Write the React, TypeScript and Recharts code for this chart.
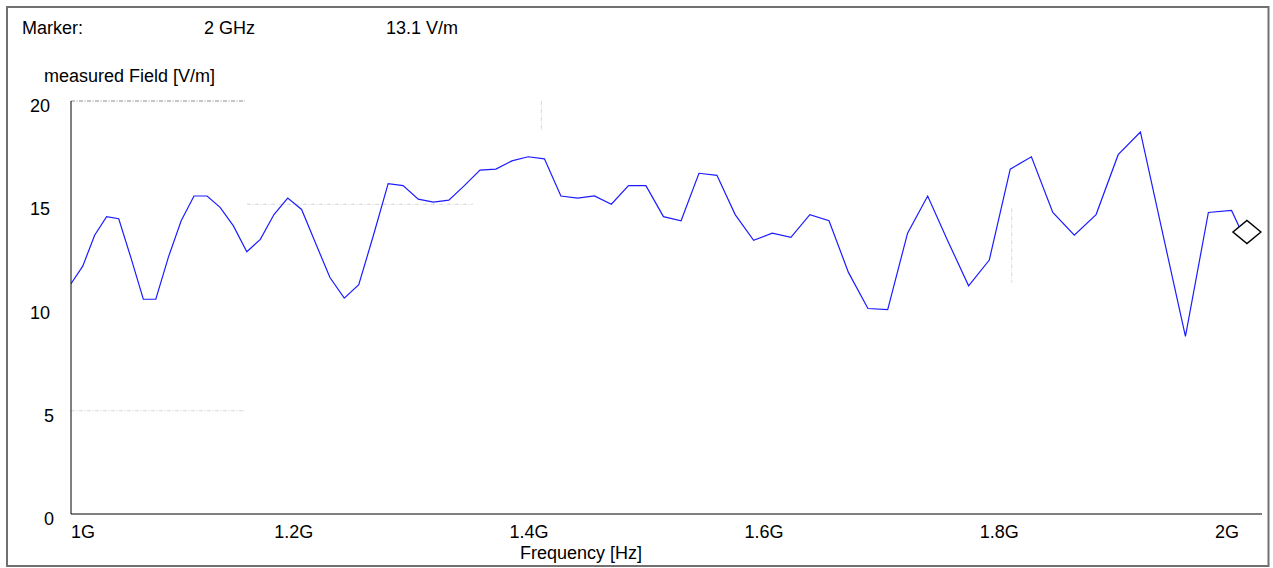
import { Line, LineChart, ReferenceLine, XAxis, YAxis } from "recharts";

// sweep points, 1 % log steps from 1 GHz, last point is the marker at 2 GHz
const freqGHz = [
  1.0, 1.01, 1.0201, 1.0303, 1.0406, 1.051, 1.0615, 1.0721, 1.0829, 1.0937,
  1.1046, 1.1157, 1.1268, 1.1381, 1.1495, 1.161, 1.1726, 1.1843, 1.1961, 1.2081,
  1.2202, 1.2324, 1.2447, 1.2572, 1.2697, 1.2824, 1.2953, 1.3082, 1.3213, 1.3345,
  1.3478, 1.3613, 1.3749, 1.3887, 1.4026, 1.4166, 1.4308, 1.4451, 1.4595, 1.4741,
  1.4889, 1.5038, 1.5188, 1.534, 1.5493, 1.5648, 1.5805, 1.5963, 1.6122, 1.6283,
  1.6446, 1.6611, 1.6777, 1.6945, 1.7114, 1.7285, 1.7458, 1.7633, 1.7809, 1.7987,
  1.8167, 1.8349, 1.8532, 1.8717, 1.8905, 1.9094, 1.9285, 1.9477, 1.9672, 1.9869,
  2.0,
];

const fieldVm = [
  11.15, 12.0, 13.5, 14.4, 14.3, 12.4, 10.4, 10.4, 12.45, 14.2,
  15.4, 15.4, 14.85, 13.95, 12.7, 13.3, 14.5, 15.3, 14.75, 13.1,
  11.45, 10.45, 11.1, 13.5, 16.0, 15.9, 15.25, 15.1, 15.2, 15.9,
  16.65, 16.7, 17.1, 17.3, 17.2, 15.4, 15.3, 15.4, 15.0, 15.9,
  15.9, 14.4, 14.2, 16.5, 16.4, 14.5, 13.25, 13.6, 13.4, 14.5,
  14.2, 11.7, 9.95, 9.9, 13.6, 15.4, 13.2, 11.05, 12.3, 16.7,
  17.3, 14.6, 13.5, 14.5, 17.4, 18.5, 13.55, 8.6, 14.6, 14.7,
  13.1,
];

const xTicks = [1, 1.2, 1.4, 1.6, 1.8, 2];
const xTickLabels = ["1G", "1.2G", "1.4G", "1.6G", "1.8G", "2G"];
const yTicks = [0, 5, 10, 15, 20];

const W = 1273;
const H = 568;
const LEFT = 71;
const TOP = 101;
const RIGHT = 11;
const X_AXIS_H = 54;
const BOTTOM = H - X_AXIS_H;
const FONT = "'Liberation Sans', Arial, sans-serif";

const data = freqGHz.map((f, i) => ({ f, v: fieldVm[i] }));
const last = data.length - 1;

// leftover pieces of the dotted grid
const gridBits = [
  { seg: [{ x: 1, y: 20 }, { x: 1.148, y: 20 }], color: "#8a8a8a" },
  { seg: [{ x: 1.1497, y: 15 }, { x: 1.3418, y: 15 }], color: "#d6d6d6" },
  { seg: [{ x: 1, y: 5 }, { x: 1.148, y: 5 }], color: "#d6d6d6" },
  { seg: [{ x: 1.4, y: 20 }, { x: 1.4, y: 18.55 }], color: "#d6d6d6" },
  { seg: [{ x: 1.8, y: 14.8 }, { x: 1.8, y: 11.2 }], color: "#d6d6d6" },
];

const XTick = (props: any) => {
  const { payload, index } = props;
  const x = Math.max(payload.coordinate - 32, LEFT);
  return (
    <text x={x} y={BOTTOM + 24} fontSize={18} fontFamily={FONT} fill="#000" textAnchor="start">
      {xTickLabels[index]}
    </text>
  );
};

const YTick = (props: any) => {
  const { payload } = props;
  const x = payload.value < 10 ? 54 : 50;
  return (
    <text x={x} y={payload.coordinate + 11} fontSize={18} fontFamily={FONT} fill="#000" textAnchor="end">
      {payload.value}
    </text>
  );
};

// marker diamond sits on top of the last point
const MarkerDot = (props: any) => {
  const { cx, cy, index } = props;
  if (index !== last) return <g key={index} />;
  const my = cy - 11.5;
  return (
    <path
      key={index}
      d={`M${cx - 14},${my} L${cx},${my - 11.5} L${cx + 14},${my} L${cx},${my + 11.5} Z`}
      fill="#fff"
      stroke="#000"
      strokeWidth={1.5}
    />
  );
};

export default function App() {
  return (
    <div style={{ position: "absolute", left: 0, top: 0, width: W, height: H, background: "#fff" }}>
      <LineChart
        width={W}
        height={H}
        data={data}
        margin={{ top: TOP, right: RIGHT, left: 0, bottom: 0 }}
      >
        <XAxis
          type="number"
          dataKey="f"
          domain={[1, 2.0128]}
          ticks={xTicks}
          height={X_AXIS_H}
          tick={<XTick />}
          tickLine={false}
          axisLine={{ stroke: "#000", strokeWidth: 1 }}
          allowDataOverflow
        />
        <YAxis
          type="number"
          domain={[0, 20]}
          ticks={yTicks}
          width={LEFT}
          tick={<YTick />}
          tickLine={false}
          axisLine={{ stroke: "#000", strokeWidth: 1 }}
        />
        {gridBits.map((g, i) => (
          <ReferenceLine
            key={i}
            segment={g.seg}
            stroke={g.color}
            strokeWidth={1}
            strokeDasharray="4 1.5 1 1.5"
            ifOverflow="visible"
          />
        ))}
        <Line
          type="linear"
          dataKey="v"
          stroke="#1c1cff"
          strokeWidth={1.2}
          dot={<MarkerDot />}
          activeDot={false}
          isAnimationActive={false}
        />
      </LineChart>
      <svg
        width={W}
        height={H}
        style={{ position: "absolute", left: 0, top: 0, pointerEvents: "none" }}
        fontFamily={FONT}
        fontSize={18}
      >
        <rect x={7} y={7} width={1261.5} height={559} fill="none" stroke="#707070" strokeWidth={2} />
        <text x={22} y={34}>Marker:</text>
        <text x={204} y={34}>{`${freqGHz[last]} GHz`}</text>
        <text x={386} y={34}>{`${fieldVm[last]} V/m`}</text>
        <text x={44} y={82}>measured Field [V/m]</text>
        <text x={520} y={559}>Frequency [Hz]</text>
      </svg>
    </div>
  );
}
